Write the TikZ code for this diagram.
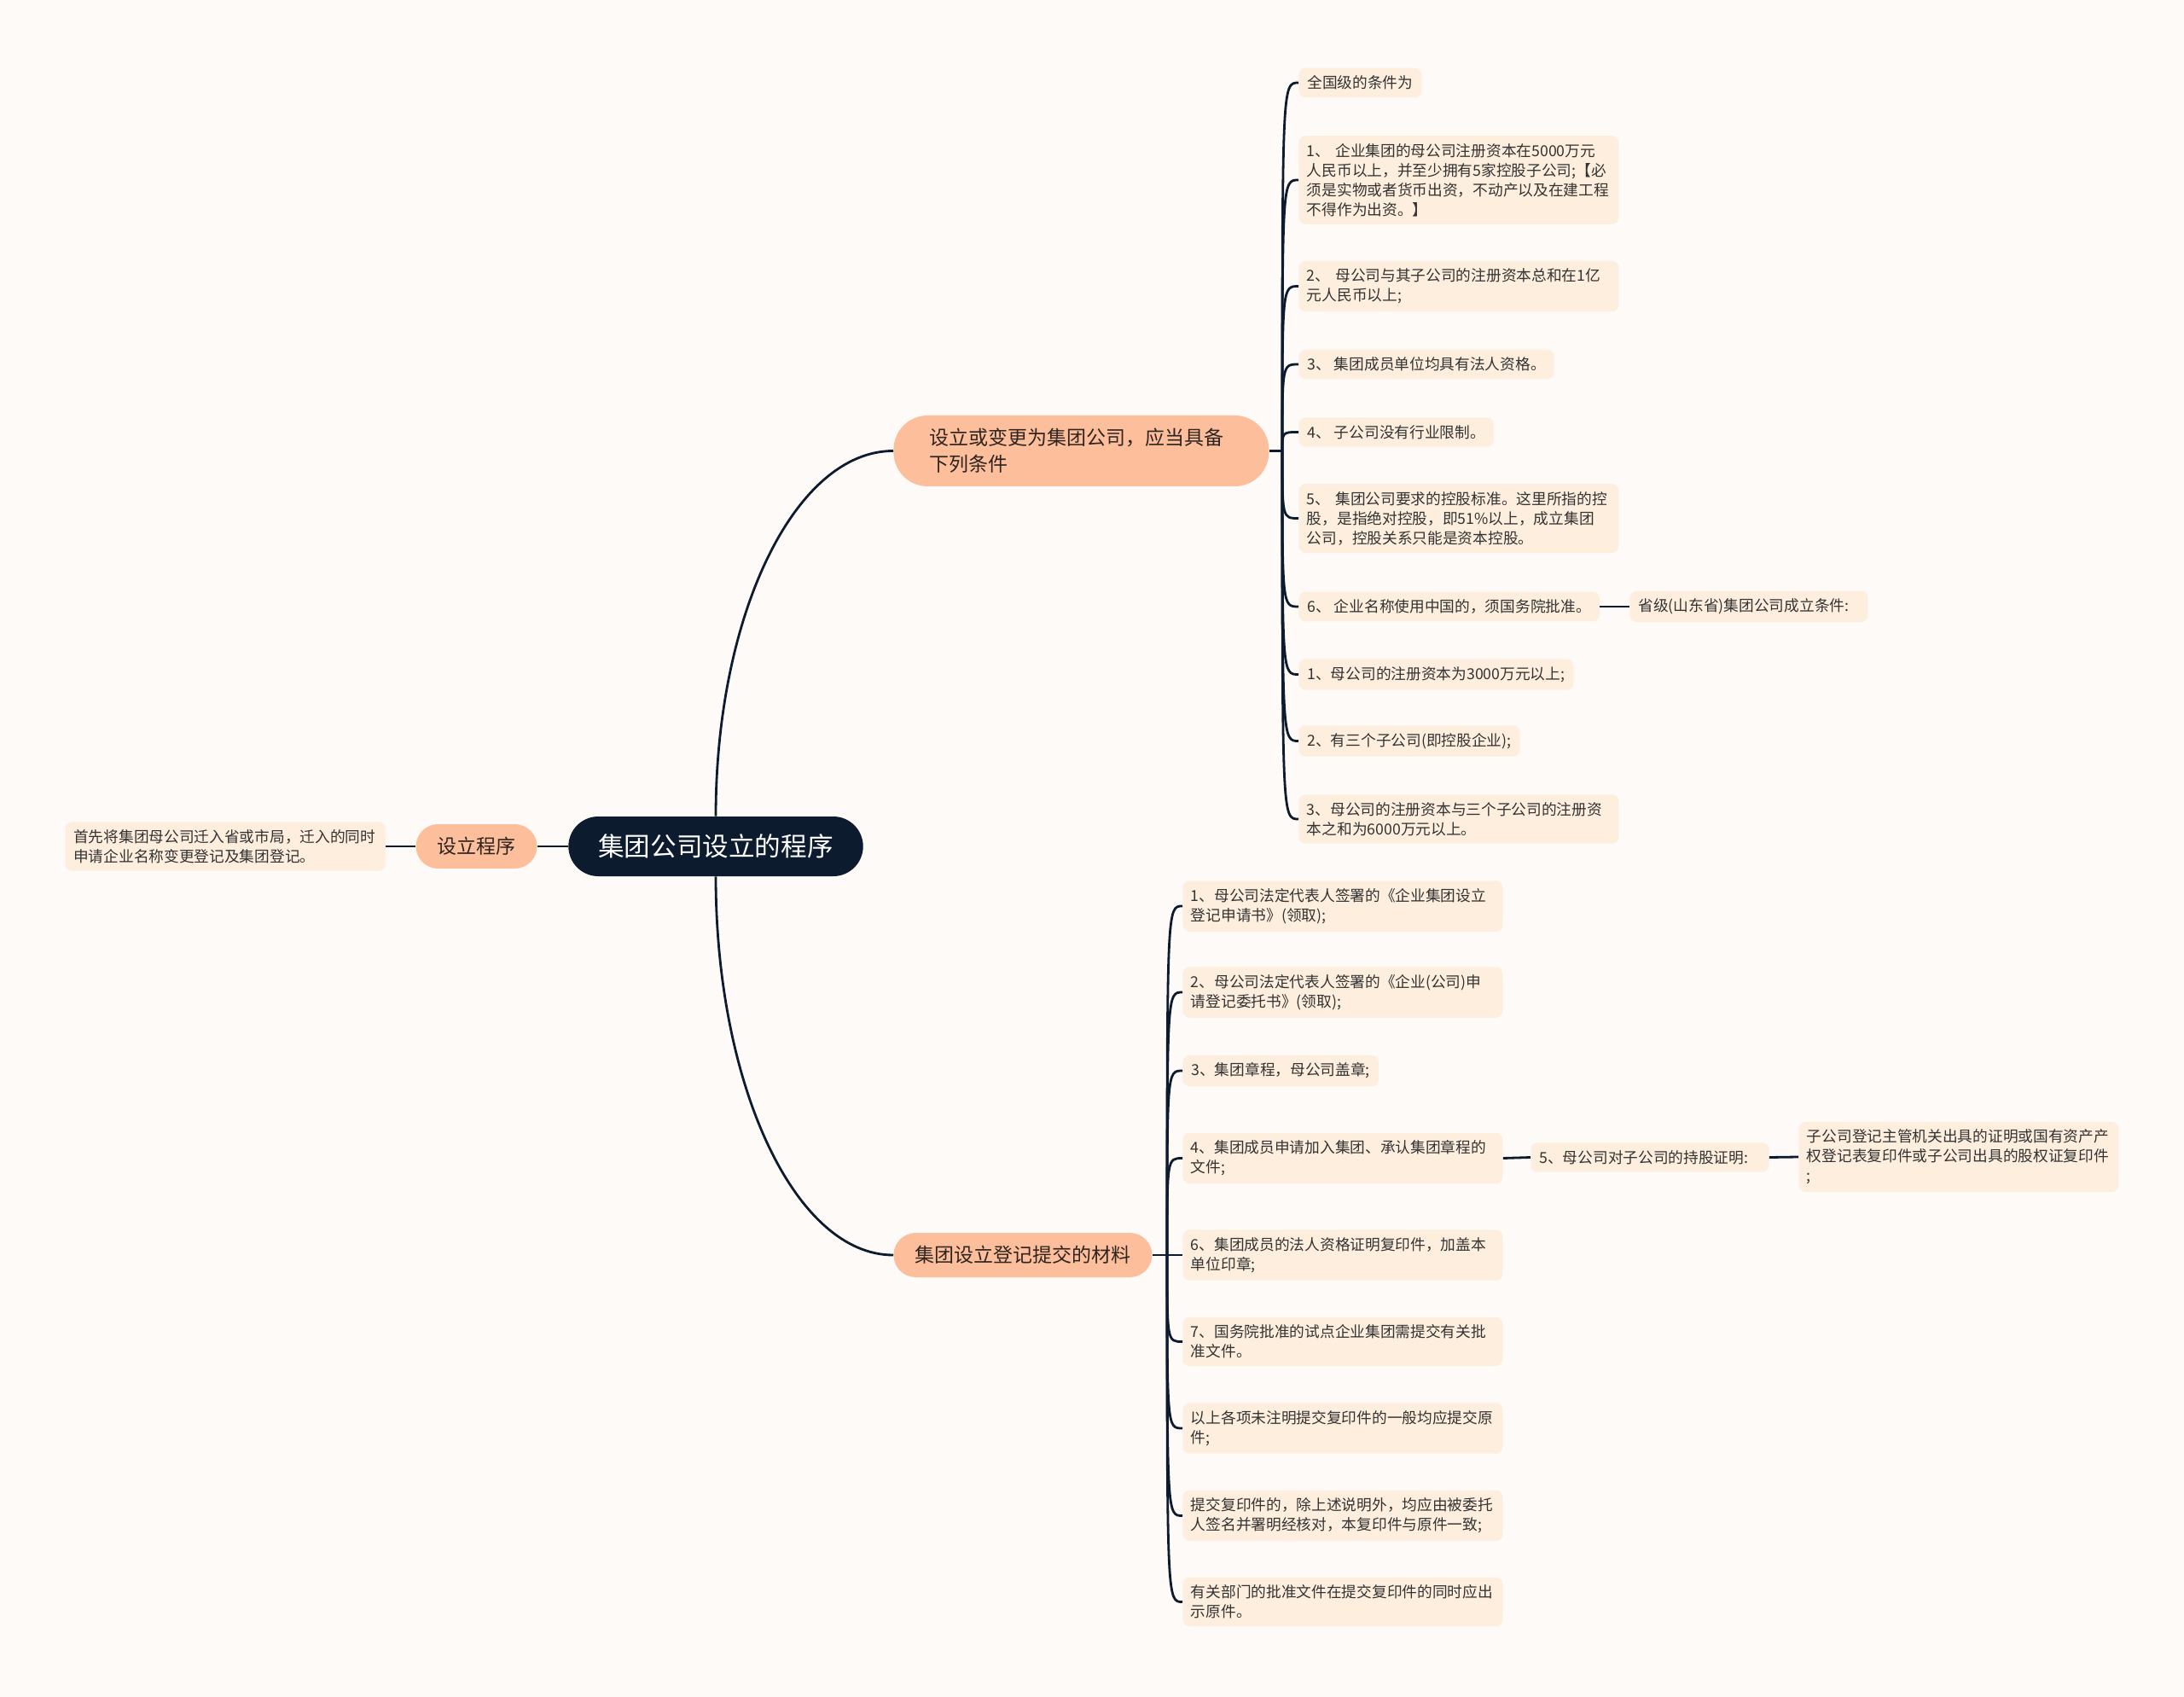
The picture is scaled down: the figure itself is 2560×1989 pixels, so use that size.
\documentclass[tikz,border=0pt]{standalone}
\usepackage{fontspec}
\setmainfont{Noto Sans CJK SC}
\usepackage{tikz}
\usetikzlibrary{positioning}

\definecolor{bgpaper}{HTML}{FDFAF8}
\definecolor{navy}{HTML}{0D1B2E}
\definecolor{peach}{HTML}{FCBE9B}
\definecolor{cream}{HTML}{FDEEDD}
\definecolor{leaftext}{HTML}{333333}
\definecolor{branchtext}{HTML}{2F2520}

\begin{document}
\begin{tikzpicture}[
    x=0.5pt, y=-0.5pt,
    every node/.style={align=left, inner sep=0pt},
    leaf/.style={fill=cream, rounded corners=4pt, text=leaftext, inner xsep=5pt, inner ysep=4.5pt,
        font=\fontsize{8.85pt}{11.5pt}\selectfont},
    wideleaf/.style={leaf, text width=178pt, inner xsep=4.75pt},
    midleaf/.style={leaf, text width=129.5pt},
    branch/.style={fill=peach, text=branchtext, font=\fontsize{11.5pt}{15.5pt}\selectfont,
        minimum height=26pt, rounded corners=13pt, inner xsep=12.5pt},
    root/.style={fill=navy, text=white, font=\fontsize{15.3pt}{18pt}\selectfont,
        minimum height=35pt, rounded corners=17.5pt, inner xsep=17.5pt},
    link/.style={draw=navy, line width=1.4pt}
]

\fill[bgpaper] (0,0) rectangle (2560,1989);

% centre and left side
\node[root] (root) at (839,992) {集团公司设立的程序};
\node[branch, left=18pt of root] (proc) {设立程序};
\node[wideleaf, left=17.5pt of proc] (proctext) {首先将集团母公司迁入省或市局，迁入的同时\\申请企业名称变更登记及集团登记。};

% upper branch
\node[branch, text width=178pt, inner xsep=21pt, minimum height=41.5pt, rounded corners=20pt,
    anchor=west] (cond) at (1047,528.5) {设立或变更为集团公司，应当具备\\下列条件};
\coordinate (s1) at (1503,528.5);

\node[leaf, anchor=west] (a0) at (1522,97) {全国级的条件为};
\node[wideleaf, anchor=west] (a1) at (1522,211) {1、~企业集团的母公司注册资本在5000万元\\人民币以上，并至少拥有5家控股子公司;【必\\须是实物或者货币出资，不动产以及在建工程\\不得作为出资。】};
\node[wideleaf, anchor=west] (a2) at (1522,335.5) {2、~母公司与其子公司的注册资本总和在1亿\\元人民币以上;};
\node[leaf, anchor=west] (a3) at (1522,427) {3、~集团成员单位均具有法人资格。};
\node[leaf, anchor=west] (a4) at (1522,506.5) {4、~子公司没有行业限制。};
\node[wideleaf, anchor=west] (a5) at (1522,607.5) {5、~集团公司要求的控股标准。这里所指的控\\股，是指绝对控股，即51\%以上，成立集团\\公司，控股关系只能是资本控股。};
\node[leaf, anchor=west] (a6) at (1522,711) {6、~企业名称使用中国的，须国务院批准。};
\node[midleaf, anchor=west] (a6r) at (1910,711) {省级(山东省)集团公司成立条件:};
\node[leaf, anchor=west] (a7) at (1522,790.5) {1、母公司的注册资本为3000万元以上;};
\node[leaf, anchor=west] (a8) at (1522,868.5) {2、有三个子公司(即控股企业);};
\node[wideleaf, anchor=west] (a9) at (1522,960) {3、母公司的注册资本与三个子公司的注册资\\本之和为6000万元以上。};

% lower branch
\node[branch, anchor=west] (mat) at (1047,1471) {集团设立登记提交的材料};
\coordinate (s2) at (1368,1471);

\node[wideleaf, anchor=west] (c1) at (1386,1062) {1、母公司法定代表人签署的《企业集团设立\\登记申请书》(领取);};
\node[wideleaf, anchor=west] (c2) at (1386,1163) {2、母公司法定代表人签署的《企业(公司)申\\请登记委托书》(领取);};
\node[leaf, anchor=west] (c3) at (1386,1255) {3、集团章程，母公司盖章;};
\node[wideleaf, anchor=west] (c4) at (1386,1357.5) {4、集团成员申请加入集团、承认集团章程的\\文件;};
\node[midleaf, anchor=west] (c5) at (1794,1356.5) {5、母公司对子公司的持股证明:};
\node[wideleaf, anchor=west] (c5r) at (2108,1356) {子公司登记主管机关出具的证明或国有资产产\\权登记表复印件或子公司出具的股权证复印件\\;};
\node[wideleaf, anchor=west] (c6) at (1386,1471) {6、集团成员的法人资格证明复印件，加盖本\\单位印章;};
\node[wideleaf, anchor=west] (c7) at (1386,1572.5) {7、国务院批准的试点企业集团需提交有关批\\准文件。};
\node[wideleaf, anchor=west] (c8) at (1386,1674) {以上各项未注明提交复印件的一般均应提交原\\件;};
\node[wideleaf, anchor=west] (c9) at (1386,1776.5) {提交复印件的，除上述说明外，均应由被委托\\人签名并署明经核对，本复印件与原件一致;};
\node[wideleaf, anchor=west] (c10) at (1386,1877.5) {有关部门的批准文件在提交复印件的同时应出\\示原件。};

% connectors
\draw[link] (root.west) -- (proc.east);
\draw[link] (proc.west) -- (proctext.east);
\draw[link] (root.north) .. controls +(0,-237) and +(-115,0) .. (cond.west);
\draw[link] (root.south) .. controls +(0,245) and +(-115,0) .. (mat.west);

\draw[link] (cond.east) -- (s1);
\foreach \n in {a0,a1,a2,a3,a4,a5,a6,a7,a8,a9}
    \draw[link] (s1) .. controls (s1 |- \n.west) .. (\n.west);
\draw[link] (a6.east) -- (a6r.west);

\draw[link] (mat.east) -- (s2);
\foreach \n in {c1,c2,c3,c4,c7,c8,c9,c10}
    \draw[link] (s2) .. controls (s2 |- \n.west) .. (\n.west);
\draw[link] (s2) -- (c6.west);
\draw[link] (c4.east) -- (c5.west);
\draw[link] (c5.east) -- (c5r.west);

\end{tikzpicture}
\end{document}
